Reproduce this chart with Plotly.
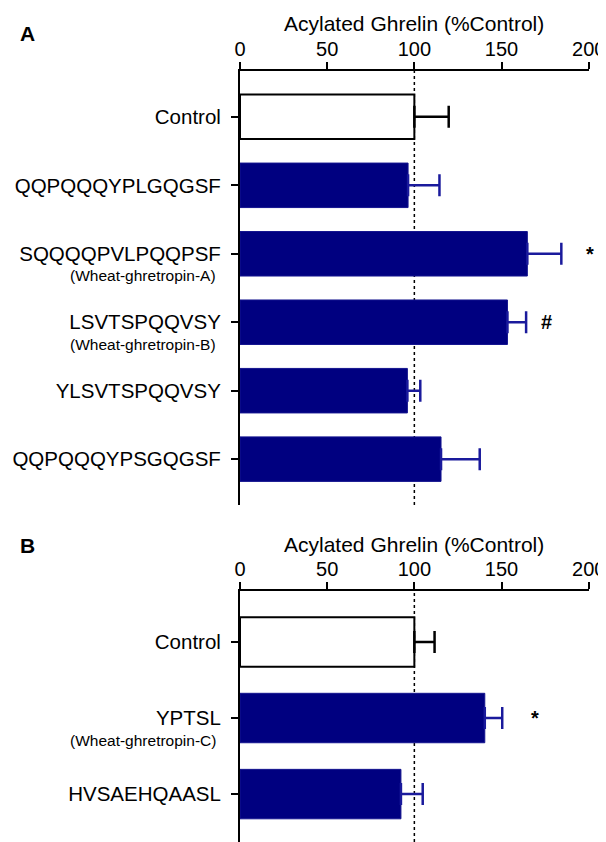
import plotly.graph_objects as go

# ---------------- data ----------------
a_labels = ["Control", "QQPQQQYPLGQGSF", "SQQQQPVLPQQPSF", "LSVTSPQQVSY", "YLSVTSPQQVSY", "QQPQQQYPSGQGSF"]
a_sub = ["", "", "(Wheat-ghretropin-A)", "(Wheat-ghretropin-B)", "", ""]
a_values = [100, 96.4, 164.8, 153.4, 96, 115.3]
a_errors = [19.7, 18, 19.5, 10.7, 7.4, 22.2]
a_marks = ["", "", "*", "#", "", ""]

b_labels = ["Control", "YPTSL", "HVSAEHQAASL"]
b_sub = ["", "(Wheat-ghretropin-C)", ""]
b_values = [100, 140.4, 92.3]
b_errors = [11.6, 10, 12.5]
b_marks = ["", "*", ""]

x_ticks = [0, 50, 100, 150, 200]
x_title = "Acylated Ghrelin (%Control)"
panel_letters = ["A", "B"]

FONT = "Arial, Liberation Sans, sans-serif"
NAVY = "#000080"
ERRBLUE = "#1a1a9c"

# page has an 8px body margin: figure drawn at (8,8) in the 606x842 window
OFF = 8
W, H = 606 - OFF, 842 - OFF


def px(x):
    return (x - OFF) / W


def py(y):
    return 1 - (y - OFF) / H


fig = go.Figure()

panels = [
    dict(labels=a_labels, sub=a_sub, vals=a_values, errs=a_errors, marks=a_marks,
         xa="x", ya="y", dom=[py(505), py(71)], rng=[5.67, -0.67],
         mark_x={"*": 590, "#": 546}, letter_y=py(33), title_y=py(24)),
    dict(labels=b_labels, sub=b_sub, vals=b_values, errs=b_errors, marks=b_marks,
         xa="x2", ya="y2", dom=[0, py(591)], rng=[2.63, -0.67],
         mark_x={"*": 535}, letter_y=py(545), title_y=py(544)),
]

xdom = [px(240), px(588.7)]

for pi, p in enumerate(panels):
    n = len(p["labels"])
    idx = list(range(n))
    # control bar
    fig.add_trace(go.Bar(
        x=[p["vals"][0]], y=[0], orientation="h", width=0.65,
        marker=dict(color="white", line=dict(color="black", width=2)),
        error_x=dict(type="data", symmetric=False, array=[p["errs"][0]], arrayminus=[0],
                     color="black", thickness=2.5, width=11),
        xaxis=p["xa"], yaxis=p["ya"], showlegend=False, hoverinfo="skip"))
    # peptide bars
    fig.add_trace(go.Bar(
        x=p["vals"][1:], y=idx[1:], orientation="h", width=0.65,
        marker=dict(color=NAVY, line=dict(color="#14148f", width=1)),
        error_x=dict(type="data", symmetric=False, array=p["errs"][1:], arrayminus=[0] * (n - 1),
                     color=ERRBLUE, thickness=2.5, width=11),
        xaxis=p["xa"], yaxis=p["ya"], showlegend=False, hoverinfo="skip"))

    # dotted reference line at 100
    fig.add_shape(type="line", xref=p["xa"], yref=p["ya"] + " domain",
                  x0=100, x1=100, y0=0, y1=1, layer="below",
                  line=dict(color="black", width=1.5, dash="dot"))

    # subtitles under labels
    for i, s in enumerate(p["sub"]):
        if s:
            fig.add_annotation(xref="paper", yref=p["ya"], x=px(218), y=i, yshift=-22,
                               text=s, showarrow=False, xanchor="right", yanchor="middle",
                               font=dict(family=FONT, size=15.5, color="black"))
    # significance marks
    for i, m in enumerate(p["marks"]):
        if m:
            fig.add_annotation(xref="paper", yref=p["ya"], x=px(p["mark_x"][m]), y=i,
                               text="<b>%s</b>" % m, showarrow=False,
                               xanchor="center", yanchor="middle",
                               font=dict(family=FONT, size=20, color="black"))
    # panel letter
    fig.add_annotation(xref="paper", yref="paper", x=px(27), y=p["letter_y"],
                       text="<b>%s</b>" % panel_letters[pi], showarrow=False,
                       xanchor="center", yanchor="middle",
                       font=dict(family=FONT, size=21, color="black"))
    # axis title
    fig.add_annotation(xref="paper", yref="paper", x=px(414), y=p["title_y"],
                       text=x_title, showarrow=False, xanchor="center", yanchor="middle",
                       font=dict(family=FONT, size=21, color="black"))

    axis_common = dict(showgrid=False, zeroline=False, showline=True, linecolor="black",
                       linewidth=2, ticks="outside", ticklen=7, tickwidth=2, tickcolor="black",
                       tickfont=dict(family=FONT, size=20, color="black"), automargin=False)
    xkey = "xaxis" if p["xa"] == "x" else "xaxis2"
    ykey = "yaxis" if p["ya"] == "y" else "yaxis2"
    fig.update_layout(**{
        xkey: dict(axis_common, domain=xdom, range=[0, 200], side="top",
                   tickvals=x_ticks, ticktext=[str(t) for t in x_ticks],
                   anchor=p["ya"], ticklabelstandoff=-2),
        ykey: dict(axis_common, domain=p["dom"], range=p["rng"], tickvals=idx,
                   ticktext=p["labels"], anchor=p["xa"], ticklabelstandoff=6,
                   tickfont=dict(family=FONT, size=20.5, color="black")),
    })

fig.update_layout(width=W, height=H, margin=dict(l=0, r=0, t=0, b=0),
                  paper_bgcolor="white", plot_bgcolor="white", barmode="overlay",
                  font=dict(family=FONT, color="black"))

fig.write_html("out.html")
